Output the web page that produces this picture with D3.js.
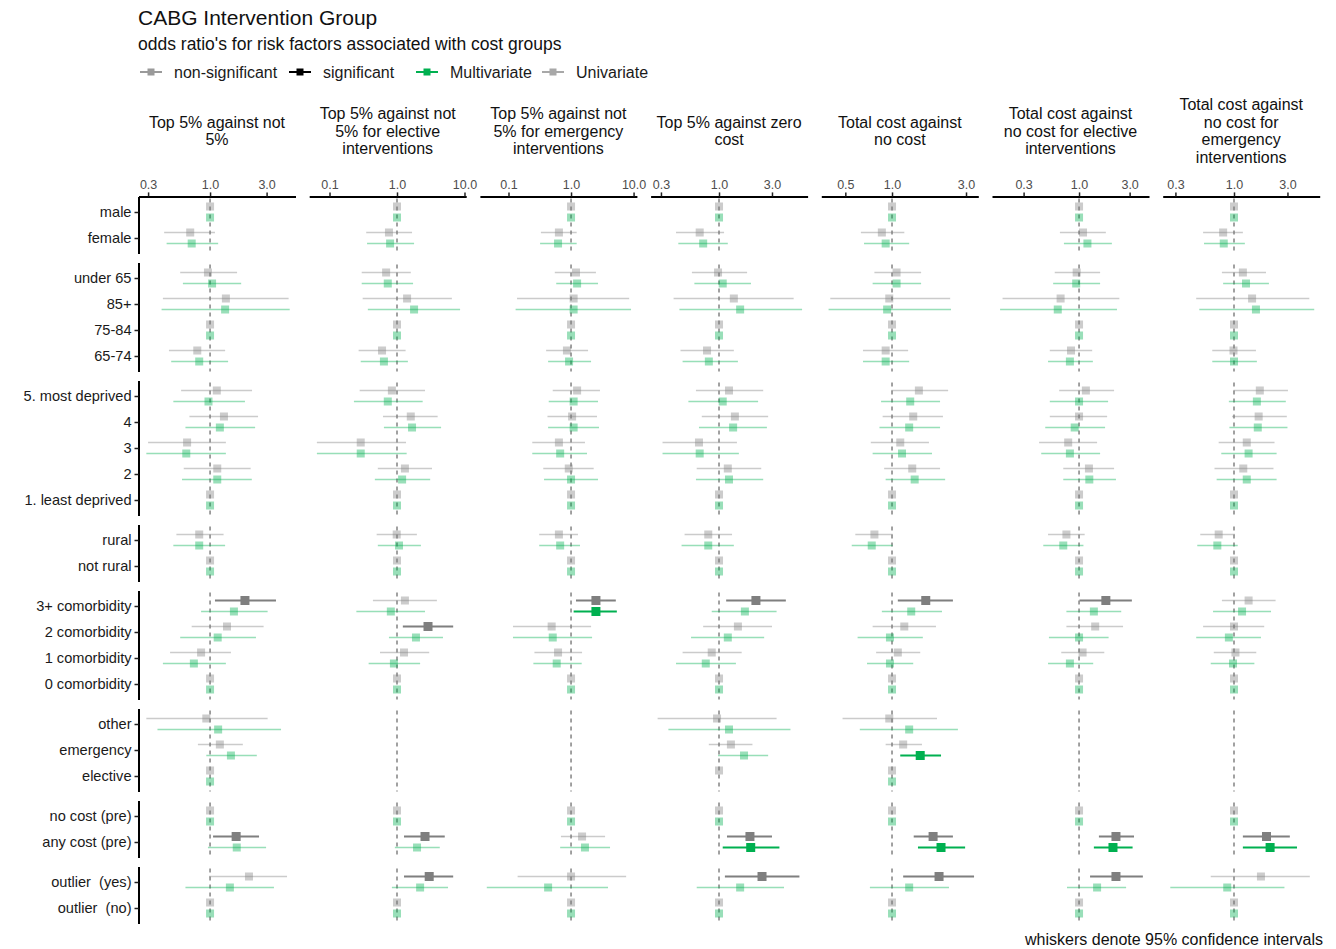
<!DOCTYPE html>
<html>
<head>
<meta charset="utf-8">
<script src="https://cdn.jsdelivr.net/npm/d3@7"></script>
<style>
  body { margin: 0; background: #fff; font-family: "Liberation Sans", Arial, sans-serif; }
</style>
</head>
<body>
<div id="chart"></div>
<script>
// ---- data -------------------------------------------------------------
var rowLabels = ["male", "female",
  "under 65", "85+", "75-84", "65-74",
  "5. most deprived", "4", "3", "2", "1. least deprived",
  "rural", "not rural",
  "3+ comorbidity", "2 comorbidity", "1 comorbidity", "0 comorbidity",
  "other", "emergency", "elective",
  "no cost (pre)", "any cost (pre)",
  "outlier  (yes)", "outlier  (no)"];
var rowGroup = [0,0, 1,1,1,1, 2,2,2,2,2, 3,3, 4,4,4,4, 5,5,5, 6,6, 7,7];

var panelTitles = [
  ["Top 5% against not", "5%"],
  ["Top 5% against not", "5% for elective", "interventions"],
  ["Top 5% against not", "5% for emergency", "interventions"],
  ["Top 5% against zero", "cost"],
  ["Total cost against", "no cost"],
  ["Total cost against", "no cost for elective", "interventions"],
  ["Total cost against", "no cost for", "emergency", "interventions"]
];
var panelTicks = [[0.3,1,3],[0.1,1,10],[0.1,1,10],[0.3,1,3],[0.5,1,3],[0.3,1,3],[0.3,1,3]];
var axisLimits = [[0.249,5.26],[0.050,10.6],[0.0349,11.3],[0.242,6.28],[0.35,3.6],[0.151,4.57],[0.231,5.82]];

var R = [1,1,1]; // reference category
// [odds ratio, lower 95%, upper 95%] per row
var uni1 = [R,[0.68,0.41,1.10],[0.96,0.56,1.69],[1.36,0.40,4.6],R,[0.78,0.45,1.34],
  [1.14,0.57,2.26],[1.31,0.67,2.54],[0.64,0.30,1.36],[1.15,0.60,2.2],R,[0.81,0.52,1.30],R,
  [1.97,1.10,3.6],[1.39,0.70,2.83],[0.84,0.46,1.50],R,[0.93,0.29,3.06],[1.21,0.79,1.89],R,
  R,[1.66,1.06,2.59],[2.13,0.98,4.46],R];
var multi1 = [R,[0.70,0.43,1.17],[1.04,0.59,1.83],[1.34,0.39,4.7],R,[0.81,0.47,1.42],
  [0.97,0.49,1.97],[1.21,0.62,2.4],[0.63,0.29,1.36],[1.15,0.58,2.25],R,[0.81,0.49,1.34],R,
  [1.59,0.84,3.06],[1.16,0.56,2.44],[0.73,0.40,1.36],R,[1.17,0.36,3.97],[1.50,0.93,2.48],R,
  R,[1.68,0.96,2.97],[1.47,0.62,3.46],R];
var uni2 = [R,[0.76,0.35,1.67],[0.69,0.30,1.6],[1.41,0.31,6.5],R,[0.60,0.27,1.34],
  [0.84,0.28,2.6],[1.6,0.62,4.0],[0.29,0.065,1.36],[1.31,0.52,3.3],R,[0.99,0.5,1.97],R,
  [1.31,0.44,3.9],[2.88,1.22,6.8],[1.27,0.56,3.0],R,null,null,null,
  R,[2.6,1.27,5.1],[3.0,1.27,6.8],R];
var multi2 = [R,[0.79,0.36,1.79],[0.73,0.30,1.73],[1.79,0.37,8.6],R,[0.64,0.29,1.45],
  [0.73,0.23,2.4],[1.67,0.64,4.5],[0.29,0.065,1.39],[1.19,0.47,3.1],R,[1.07,0.52,2.26],R,
  [0.81,0.25,2.6],[1.91,0.76,4.8],[0.90,0.38,2.2],R,null,null,null,
  R,[1.98,0.93,4.3],[2.2,0.84,5.7],R];
var uni3 = [R,[0.64,0.33,1.23],[1.2,0.55,2.5],[1.1,0.137,8.5],R,[0.86,0.40,1.87],
  [1.25,0.51,2.9],[1.04,0.42,2.6],[0.64,0.24,1.67],[0.92,0.36,2.3],R,[0.64,0.31,1.29],R,
  [2.5,1.2,5.2],[0.49,0.118,2.09],[0.62,0.26,1.5],R,null,null,null,
  R,[1.5,0.69,3.5],[1.0,0.14,7.6],R];
var multi3 = [R,[0.62,0.32,1.23],[1.25,0.58,2.7],[1.1,0.13,9.1],R,[0.93,0.43,2.09],
  [1.1,0.44,2.7],[1.1,0.43,2.8],[0.67,0.24,1.8],[1.0,0.37,2.7],R,[0.67,0.31,1.39],R,
  [2.5,1.1,5.4],[0.51,0.118,2.17],[0.59,0.25,1.48],R,null,null,null,
  R,[1.67,0.67,4.2],[0.43,0.045,3.9],R];
var uni4 = [R,[0.67,0.41,1.11],[0.98,0.57,1.79],[1.36,0.39,4.7],R,[0.78,0.45,1.36],
  [1.23,0.62,2.5],[1.39,0.70,2.77],[0.66,0.31,1.45],[1.2,0.63,2.4],R,[0.80,0.49,1.31],R,
  [2.15,1.16,4.0],[1.48,0.72,3.0],[0.86,0.47,1.6],R,[0.96,0.28,3.3],[1.28,0.81,2.0],R,
  R,[1.9,1.18,3.0],[2.44,1.13,5.3],R];
var multi4 = [R,[0.72,0.43,1.2],[1.08,0.6,1.94],[1.55,0.44,5.6],R,[0.81,0.47,1.48],
  [1.08,0.53,2.25],[1.34,0.66,2.7],[0.67,0.31,1.51],[1.23,0.62,2.5],R,[0.80,0.46,1.36],R,
  [1.71,0.86,3.3],[1.2,0.56,2.55],[0.76,0.41,1.42],R,[1.23,0.35,4.4],[1.68,0.98,2.77],null,
  R,[1.93,1.08,3.5],[1.55,0.63,3.85],R];
var uni5 = [R,[0.86,0.63,1.2],[1.07,0.77,1.54],[0.96,0.40,2.37],R,[0.91,0.65,1.27],
  [1.49,0.99,2.3],[1.37,0.87,2.13],[1.13,0.73,1.73],[1.35,0.89,2.04],R,[0.77,0.58,1.01],R,
  [1.65,1.09,2.47],[1.2,0.75,1.92],[1.09,0.79,1.52],R,[0.96,0.48,1.95],[1.18,0.91,1.56],R,
  R,[1.84,1.38,2.47],[2.01,1.18,3.38],R];
var multi5 = [R,[0.91,0.66,1.29],[1.07,0.75,1.54],[0.93,0.39,2.4],R,[0.91,0.65,1.29],
  [1.31,0.85,2.04],[1.29,0.83,2.04],[1.16,0.75,1.81],[1.40,0.91,2.2],R,[0.74,0.55,1.01],R,
  [1.33,0.86,2.1],[0.97,0.6,1.58],[0.97,0.69,1.37],R,[1.29,0.62,2.66],[1.52,1.13,2.07],R,
  R,[2.07,1.47,2.96],[1.29,0.72,2.33],R];
var uni6 = [R,[1.09,0.66,1.79],[0.95,0.59,1.58],[0.67,0.19,2.4],R,[0.84,0.53,1.33],
  [1.16,0.65,2.14],[1.0,0.53,1.84],[0.79,0.42,1.48],[1.24,0.71,2.14],R,[0.76,0.51,1.13],R,
  [1.79,1.01,3.15],[1.42,0.76,2.6],[1.08,0.68,1.73],R,null,null,null,
  R,[2.23,1.54,3.3],[2.23,1.27,4.0],R];
var multi6 = [R,[1.2,0.72,2.04],[0.94,0.57,1.58],[0.63,0.18,2.28],R,[0.82,0.51,1.35],
  [1.0,0.53,1.88],[0.91,0.48,1.76],[0.82,0.44,1.58],[1.25,0.71,2.23],R,[0.71,0.46,1.1],R,
  [1.38,0.76,2.5],[1.0,0.52,1.9],[0.82,0.51,1.36],R,null,null,null,
  R,[2.09,1.38,3.2],[1.48,0.77,2.78],R];
var uni7 = [R,[0.80,0.53,1.2],[1.2,0.78,1.93],[1.45,0.46,4.7],R,[0.99,0.64,1.57],
  [1.7,0.99,3.03],[1.66,0.96,2.96],[1.3,0.73,2.3],[1.21,0.67,2.25],R,[0.73,0.50,1.02],R,
  [1.35,0.78,2.35],[1.0,0.53,1.86],[1.03,0.66,1.58],R,null,null,null,
  R,[1.95,1.2,3.15],[1.74,0.62,4.75],R];
var multi7 = [R,[0.81,0.54,1.25],[1.28,0.80,2.05],[1.57,0.49,5.2],R,[1.0,0.64,1.6],
  [1.6,0.9,2.9],[1.63,0.91,3.0],[1.35,0.77,2.4],[1.3,0.7,2.4],R,[0.71,0.47,1.08],R,
  [1.18,0.65,2.14],[0.9,0.46,1.74],[0.98,0.62,1.52],R,null,null,null,
  R,[2.1,1.2,3.65],[0.87,0.27,2.82],R];

var uniData = [uni1, uni2, uni3, uni4, uni5, uni6, uni7];
var multiData = [multi1, multi2, multi3, multi4, multi5, multi6, multi7];

var legendItems = ["non-significant", "significant", "Multivariate", "Univariate"];
var legendColors = ["#9a9a9a", "#000000", "#00b050", "#a8a8a8"];

// ---- layout -----------------------------------------------------------
var width = 1336, height = 949;
var panelX0 = 138.5, panelW = 157, panelGap = 13.7;
var plotTop = 196.4, rowStep = 26, groupGap = 8.8;
var uniColor = "#7f7f7f", multiColor = "#00b050";

var svg = d3.select("#chart").append("svg")
  .attr("width", width)
  .attr("height", height);

// title block
svg.append("text").attr("x", 138).attr("y", 25)
  .attr("font-size", "21px").attr("fill", "#111")
  .text("CABG Intervention Group");
svg.append("text").attr("x", 138).attr("y", 50)
  .attr("font-size", "17.5px").attr("fill", "#111")
  .text("odds ratio's for risk factors associated with cost groups");

// legend
var legX = [140, 289, 416, 542];
legendItems.forEach(function(lab, i) {
  var g = svg.append("g").attr("transform", "translate(" + legX[i] + ",72)");
  g.append("line").attr("x1", 0).attr("x2", 22).attr("y1", 0).attr("y2", 0)
    .attr("stroke", legendColors[i]).attr("stroke-width", 2);
  g.append("rect").attr("x", 7.5).attr("y", -3.5).attr("width", 7).attr("height", 7)
    .attr("fill", legendColors[i]);
  g.append("text").attr("x", 34).attr("y", 5.8)
    .attr("font-size", "16px").attr("fill", "#1a1a1a").text(lab);
});

// group (facet row) scales
var nGroups = d3.max(rowGroup) + 1;
var groupScales = [];
var yStart = plotTop;
for (var gi = 0; gi < nGroups; gi++) {
  var items = rowLabels.filter(function(d, i) { return rowGroup[i] === gi; });
  var h = (items.length - 1 + 1.2) * rowStep;
  groupScales.push(d3.scalePoint().domain(items).range([yStart, yStart + h]).padding(0.6));
  yStart += h + groupGap;
}
function yRow(i) { return groupScales[rowGroup[i]](rowLabels[i]); }

// y axes (one per group, left of first panel)
groupScales.forEach(function(ys) {
  var ax = svg.append("g")
    .attr("transform", "translate(" + panelX0 + ",0)")
    .call(d3.axisLeft(ys).tickSize(4).tickSizeOuter(0).tickPadding(3));
  ax.select(".domain").attr("stroke", "#000").attr("stroke-width", 2);
  ax.selectAll(".tick line").attr("stroke", "#222").attr("stroke-width", 1.5);
  ax.selectAll("text").attr("font-size", "14.6px").attr("fill", "#1a1a1a")
    .attr("font-family", "Liberation Sans, Arial, sans-serif")
    .style("white-space", "pre");
});

// panels
panelTitles.forEach(function(title, p) {
  var x0 = panelX0 + p * (panelW + panelGap);
  var x = d3.scaleLog().domain(axisLimits[p]).range([x0, x0 + panelW]);
  var cx = x0 + panelW / 2;

  // strip title, centred vertically
  var lh = 17.4;
  title.forEach(function(line, k) {
    svg.append("text")
      .attr("x", cx)
      .attr("y", 131 - (title.length - 1) / 2 * lh + k * lh + 5.5)
      .attr("text-anchor", "middle")
      .attr("font-size", "16px").attr("fill", "#111")
      .text(line);
  });

  // top axis
  var xa = svg.append("g")
    .attr("transform", "translate(0," + plotTop + ")")
    .call(d3.axisTop(x).tickValues(panelTicks[p]).tickFormat(d3.format(".1f"))
      .tickSize(4).tickSizeOuter(0).tickPadding(3));
  xa.select(".domain").attr("stroke", "#000").attr("stroke-width", 2);
  xa.selectAll(".tick line").attr("stroke", "#222").attr("stroke-width", 1.5);
  xa.selectAll("text").attr("font-size", "12.5px").attr("fill", "#4d4d4d")
    .attr("font-family", "Liberation Sans, Arial, sans-serif");

  // dashed reference line at OR = 1 in each group
  groupScales.forEach(function(ys) {
    var r = ys.range();
    svg.append("line")
      .attr("x1", x(1)).attr("x2", x(1))
      .attr("y1", r[0] + 2).attr("y2", r[1])
      .attr("stroke", "#7a7a7a").attr("stroke-width", 1.4)
      .attr("stroke-dasharray", "4,4");
  });

  // estimates
  var series = [
    { data: uniData[p], color: uniColor, dy: -5.5 },
    { data: multiData[p], color: multiColor, dy: 5.5 }
  ];
  series.forEach(function(s) {
    var pts = s.data.map(function(d, i) {
      return d ? { or: d[0], lo: d[1], hi: d[2], row: i, sig: d[1] > 1 || d[2] < 1 } : null;
    }).filter(function(d) { return d; });

    var g = svg.append("g");
    g.selectAll("line.ci").data(pts).enter().append("line")
      .attr("class", "ci")
      .attr("x1", function(d) { return x(d.lo); })
      .attr("x2", function(d) { return x(d.hi); })
      .attr("y1", function(d) { return yRow(d.row) + s.dy; })
      .attr("y2", function(d) { return yRow(d.row) + s.dy; })
      .attr("stroke", s.color)
      .attr("stroke-width", function(d) { return d.sig ? 2.2 : 1.6; })
      .attr("opacity", function(d) { return d.sig ? 1 : 0.4; });
    g.selectAll("rect.pt").data(pts).enter().append("rect")
      .attr("class", "pt")
      .attr("x", function(d) { return x(d.or) - (d.sig ? 4.5 : 4); })
      .attr("y", function(d) { return yRow(d.row) + s.dy - (d.sig ? 4.5 : 4); })
      .attr("width", function(d) { return d.sig ? 9 : 8; })
      .attr("height", function(d) { return d.sig ? 9 : 8; })
      .attr("fill", s.color)
      .attr("opacity", function(d) { return d.sig ? 1 : 0.4; });
  });
});

// caption
svg.append("text").attr("x", 1323).attr("y", 945)
  .attr("text-anchor", "end").attr("font-size", "16px").attr("fill", "#111")
  .text("whiskers denote 95% confidence intervals");
</script>
</body>
</html>
